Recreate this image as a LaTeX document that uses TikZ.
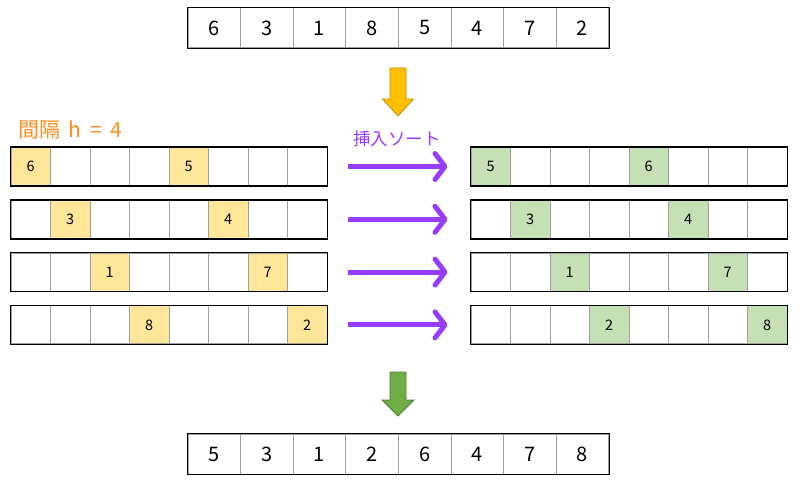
\documentclass[tikz,border=0pt]{standalone}
\usepackage{fontspec}
\setmainfont{Noto Sans CJK JP}
\usetikzlibrary{arrows.meta,positioning}
\definecolor{hlyellow}{RGB}{255,230,153}
\definecolor{hlgreen}{RGB}{197,224,180}
\definecolor{gold}{RGB}{255,192,0}
\definecolor{golddark}{RGB}{196,146,0}
\definecolor{leaf}{RGB}{112,173,71}
\definecolor{leafdark}{RGB}{78,128,48}
\definecolor{purp}{RGB}{150,60,255}
\definecolor{orng}{RGB}{255,140,26}

\begin{document}
\begin{tikzpicture}[x=1pt,y=-1pt,
  cell/.style={draw=gray!75,line width=1pt,minimum width=52.6pt,minimum height=40pt,
    inner sep=0pt,font=\fontsize{20}{20}\selectfont},
  smallcell/.style={draw=gray!75,line width=1pt,minimum width=39.5pt,minimum height=38pt,
    inner sep=0pt,font=\fontsize{14.5}{14.5}\selectfont},
  border/.style={draw=black,line width=1.6pt},
  sortarrow/.style={draw=purp,line width=5pt,-{Straight Barb[length=10pt,width=26pt,round]}},
]
\useasboundingbox (0,0) rectangle (800,495);
% input array
\foreach \v [count=\i] in {6,3,1,8,5,4,7,2}
 \node[cell] (T\i) at ({214.3+52.6*(\i-1)},28) {\v};
\draw[border] (T1.north west) rectangle (T8.south east);
% output array
\foreach \v [count=\i] in {5,3,1,2,6,4,7,8}
 \node[cell] (B\i) at ({214.3+52.6*(\i-1)},454) {\v};
\draw[border] (B1.north west) rectangle (B8.south east);
% block arrows
\filldraw[fill=gold,draw=golddark,line width=0.8pt] (398,68) ++(-8,0) -- ++(16,0)
 -- ++(0,31) -- ++(7.5,0) -- ++(-15.5,17) -- ++(-15.5,-17) -- ++(7.5,0) -- cycle;
\filldraw[fill=leaf,draw=leafdark,line width=0.8pt] (398,372) ++(-8,0) -- ++(16,0)
 -- ++(0,28) -- ++(8,0) -- ++(-16,16) -- ++(-16,-16) -- ++(8,0) -- cycle;
\node[anchor=west,text=orng,font=\fontsize{21}{21}\selectfont] (gap) at (15,130)
 {間隔\hspace{8pt}h\hspace{9pt}=\hspace{9pt}4};
\node[text=purp,font=\fontsize{17.5}{17.5}\selectfont] (ins) at (397,139) {挿入ソート};
% the four sub-lists
\foreach \r/\a/\b/\c/\d in {1/6/5/5/6,2/3/4/3/4,3/1/7/1/7,4/8/2/2/8}{
 \foreach \i in {1,...,8}{
  \node[smallcell] (L\r-\i) at ({30.75+39.5*(\i-1)},{166.5+52.8*(\r-1)}) {};
  \node[smallcell] (R\r-\i) at ({490.75+39.5*(\i-1)},{166.5+52.8*(\r-1)}) {};
 }
 \pgfmathtruncatemacro{\s}{\r+4}
 \node[smallcell,fill=hlyellow] at (L\r-\r) {\a};
 \node[smallcell,fill=hlyellow] at (L\r-\s) {\b};
 \node[smallcell,fill=hlgreen] at (R\r-\r) {\c};
 \node[smallcell,fill=hlgreen] at (R\r-\s) {\d};
 \draw[border] (L\r-1.north west) rectangle (L\r-8.south east);
 \draw[border] (R\r-1.north west) rectangle (R\r-8.south east);
 \draw[sortarrow,shorten <=20pt,shorten >=23pt] (L\r-8.east) -- (R\r-1.west);
}
\end{tikzpicture}
\end{document}
